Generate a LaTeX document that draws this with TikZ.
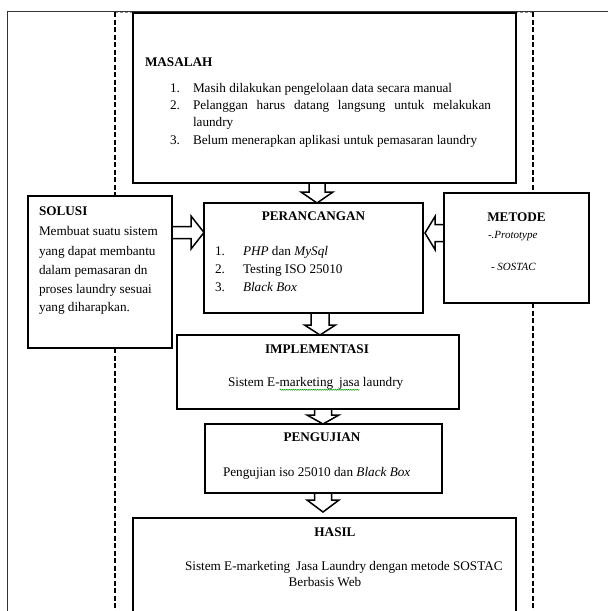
\documentclass[tikz,border=0pt]{standalone}
\usepackage{fontspec}
\setmainfont{Liberation Serif}
\usetikzlibrary{calc,decorations.pathmorphing}
\begin{document}
\begin{tikzpicture}[x=1pt,y=-1pt,
  box/.style={draw=black,line width=1.8pt,inner sep=0pt,outer sep=0pt,anchor=north west},
  txt/.style={inner sep=0pt,outer sep=0pt,font=\fontsize{13.2}{15}\selectfont,text height=9.5pt,text depth=3pt},
  ttl/.style={txt,font=\fontsize{13.2}{15}\selectfont\bfseries},
  blk/.style={draw=black,line width=1.5pt,fill=white,line join=miter},
  dsh/.style={draw=black,line width=1.4pt,dash pattern=on 5pt off 2.5pt},
  frame/.style={draw=black!80,line width=0.9pt}]
\useasboundingbox (0,0) rectangle (608,611);
\clip (0,0) rectangle (608,611);
\fill[white] (0,0) rectangle (608,611);

% outer frame
\draw[frame] (7,650) -- (7,11) -- (650,11);

% coordinates used for arrows and dashed lines
\coordinate (dl) at (115,0);
\coordinate (dr) at (533,0);
\coordinate (c1) at (317,0);
\coordinate (c2) at (320,0);
\coordinate (c3) at (323,0);
\coordinate (c4) at (323,0);
\coordinate (h1) at (0,232.5);
\coordinate (h2) at (0,233);

% boxes (shapes only, named)
\path (133,13) node[box,draw=none,minimum width=383pt,minimum height=170pt] (mas) {};
\path (28,196) node[box,draw=none,minimum width=144pt,minimum height=152pt] (sol) {};
\path (204,203) node[box,draw=none,minimum width=219pt,minimum height=110pt] (per) {};
\path (444,193) node[box,draw=none,minimum width=145pt,minimum height=110pt] (met) {};
\path (177,335) node[box,draw=none,minimum width=282pt,minimum height=74pt] (imp) {};
\path (205,424) node[box,draw=none,minimum width=237pt,minimum height=69pt] (pen) {};
\path (133,518) node[box,draw=none,minimum width=383pt,minimum height=140pt] (has) {};

% dashed lines
\draw[draw=black!45,line width=0.8pt,dash pattern=on 3pt off 2pt] (dl |- 0,12) -- (dr |- 0,12);
\draw[dsh] (115,12) -- (dl |- sol.north);
\draw[dsh] (dl |- sol.south) -- (115,650);
\draw[dsh] (533,12) -- (dr |- met.north);
\draw[dsh] (dr |- met.south) -- (533,650);

% block arrows (drawn before box borders)
\draw[blk] ($(mas.south -| c1)+(-8,0)$) -- ($(per.north -| c1)+(-8,-11)$) -- ($(per.north -| c1)+(-16,-11)$)
  -- (per.north -| c1) -- ($(per.north -| c1)+(16,-11)$) -- ($(per.north -| c1)+(8,-11)$) -- ($(mas.south -| c1)+(8,0)$);
\draw[blk] ($(per.south -| c2)+(-9,0)$) -- ($(imp.north -| c2)+(-9,-10)$) -- ($(imp.north -| c2)+(-15.5,-10)$)
  -- (imp.north -| c2) -- ($(imp.north -| c2)+(15.5,-10)$) -- ($(imp.north -| c2)+(9,-10)$) -- ($(per.south -| c2)+(9,0)$);
\draw[blk] ($(imp.south -| c3)+(-8.5,0)$) -- ($(pen.north -| c3)+(-8.5,-9)$) -- ($(pen.north -| c3)+(-16,-9)$)
  -- (pen.north -| c3) -- ($(pen.north -| c3)+(16,-9)$) -- ($(pen.north -| c3)+(8.5,-9)$) -- ($(imp.south -| c3)+(8.5,0)$);
\draw[blk] ($(pen.south -| c4)+(-8.5,0)$) -- ($(has.north -| c4)+(-8.5,-18)$) -- ($(has.north -| c4)+(-16,-18)$)
  -- ($(has.north -| c4)+(0,-6)$) -- ($(has.north -| c4)+(16,-18)$) -- ($(has.north -| c4)+(8.5,-18)$) -- ($(pen.south -| c4)+(8.5,0)$);
\draw[blk] ($(sol.east |- h1)+(0,-6)$) -- ($(per.west |- h1)+(-13,-6)$) -- ($(per.west |- h1)+(-13,-16.5)$)
  -- (per.west |- h1) -- ($(per.west |- h1)+(-13,16.5)$) -- ($(per.west |- h1)+(-13,6)$) -- ($(sol.east |- h1)+(0,6)$);
\draw[blk] ($(met.west |- h2)+(0,-8.5)$) -- ($(per.east |- h2)+(12,-8.5)$) -- ($(per.east |- h2)+(12,-16.5)$)
  -- ($(per.east |- h2)+(2,0)$) -- ($(per.east |- h2)+(12,16.5)$) -- ($(per.east |- h2)+(12,8.5)$) -- ($(met.west |- h2)+(0,8.5)$);

% box borders
\foreach \b in {mas,sol,per,met,imp,pen,has}
  \draw[line width=1.8pt] (\b.north west) rectangle (\b.south east);

% MASALAH
\node[ttl,anchor=west] (masT) at (145,63) {MASALAH};
\node[txt,anchor=west] (m1n) at (170,89) {1.};
\node[txt,anchor=west] (m1) at (193,89) {Masih dilakukan pengelolaan data secara manual};
\node[txt,anchor=west] (m2n) at (170,106) {2.};
\node[txt,anchor=west] (m2) at (193,106) {\hbox to 298pt{Pelanggan\hfill harus\hfill datang\hfill langsung\hfill untuk\hfill melakukan}};
\node[txt,anchor=west] (m2b) at (193,123) {laundry};
\node[txt,anchor=west] (m3n) at (170,141) {3.};
\node[txt,anchor=west] (m3) at (193,141) {Belum menerapkan aplikasi untuk pemasaran laundry};

% SOLUSI
\node[ttl,anchor=west] (solT) at (39,212) {SOLUSI};
\node[txt,anchor=west] (s1) at (39,232) {Membuat suatu sistem};
\node[txt,anchor=west] (s2) at (39,252) {yang dapat membantu};
\node[txt,anchor=west] (s3) at (39,271) {dalam pemasaran dn};
\node[txt,anchor=west] (s4) at (39,290) {proses laundry sesuai};
\node[txt,anchor=west] (s5) at (39,308) {yang diharapkan.};

% PERANCANGAN
\node[ttl] (perT) at (313.5,217) {PERANCANGAN};
\node[txt,anchor=west] (p1n) at (215,252) {1.};
\node[txt,anchor=west] (p1) at (243,252) {\textit{PHP} dan \textit{MySql}};
\node[txt,anchor=west] (p2n) at (215,270) {2.};
\node[txt,anchor=west] (p2) at (243,270) {Testing ISO 25010};
\node[txt,anchor=west] (p3n) at (215,288) {3.};
\node[txt,anchor=west] (p3) at (243,288) {\textit{Black Box}};

% METODE
\node[ttl] (metT) at (516.5,218) {METODE};
\node[txt,anchor=west,font=\fontsize{11}{13}\selectfont\itshape] (mt1) at (488,235) {-.Prototype};
\node[txt,anchor=west,font=\fontsize{11}{13}\selectfont\itshape] (mt2) at (491,267) {- SOSTAC};

% IMPLEMENTASI
\node[ttl] (impT) at (317,350) {IMPLEMENTASI};
\node[txt,anchor=west] (i1) at (228,383) {Sistem E-};
\node[txt,anchor=base west] (i2) at (i1.base east) {marketing\hspace{0.45em}jasa};
\node[txt,anchor=base west] (i3) at (i2.base east) {\ laundry};
\draw[green!60!black,line width=0.5pt,decorate,decoration={snake,amplitude=0.6pt,segment length=2.2pt}]
  ($(i2.base west)+(0,3.5)$) -- ($(i2.base east)+(0,3.5)$);

% PENGUJIAN
\node[ttl] (penT) at (322,438) {PENGUJIAN};
\node[txt,anchor=west] (pe1) at (223,473) {Pengujian iso 25010 dan \textit{Black Box}};

% HASIL
\node[ttl] (hasT) at (335,533) {HASIL};
\node[txt,anchor=west] (h1t) at (185,567) {Sistem E-marketing\hspace{0.45em}Jasa Laundry dengan metode SOSTAC};
\node[txt] (h2t) at (325,583) {Berbasis Web};
\end{tikzpicture}
\end{document}
